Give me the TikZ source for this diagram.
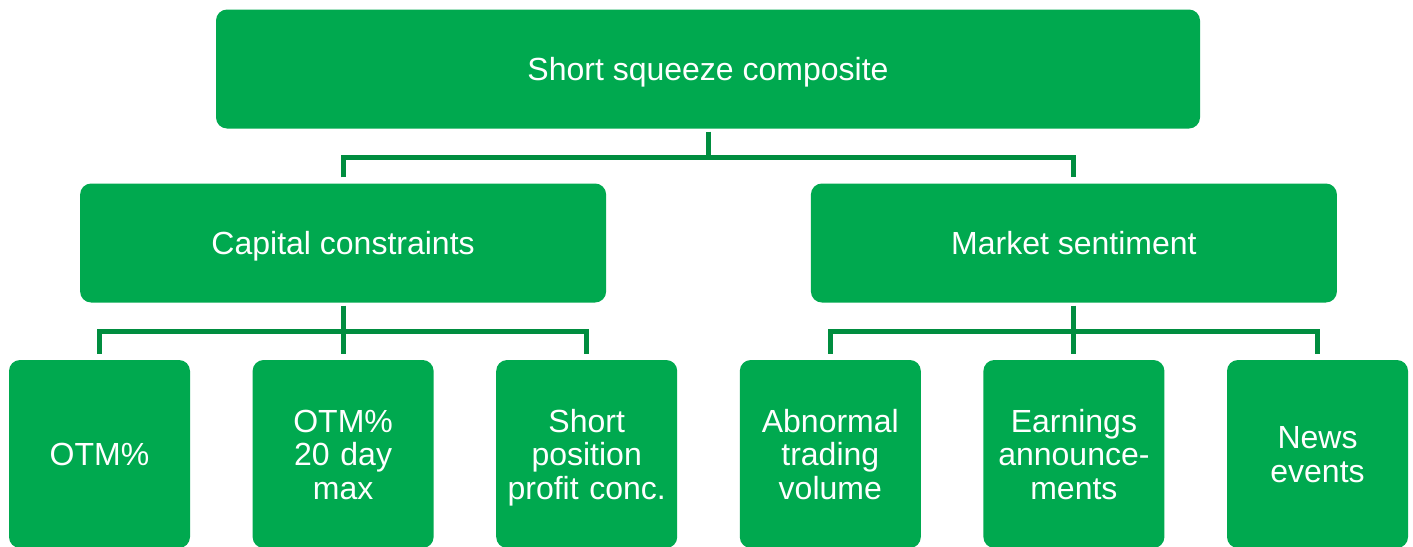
\documentclass[tikz,border=0pt]{standalone}
\usepackage{fontspec}
\setmainfont{Liberation Sans}
\definecolor{boxgreen}{HTML}{00A94F}
\definecolor{linkgreen}{HTML}{008D3F}
\begin{document}
\begin{tikzpicture}[x=1pt,y=1pt,node distance=243.6pt,
            box/.style={fill=boxgreen,rounded corners=11pt,text=white,align=center,
              inner sep=0pt,font=\fontsize{32}{33.5}\selectfont,
              execute at begin node=\rule{0pt}{31pt},
              execute at end node=\rule[-8pt]{0pt}{8pt}},
            root node/.style={box,minimum width=984pt,minimum height=119pt},
            group node/.style={box,minimum width=526pt,minimum height=119pt},
            leaf node/.style={box,text width=181pt,minimum height=188pt},
            link/.style={draw=linkgreen,line width=5pt},
            stem/.style={link,shorten <=3pt},
            branch/.style={link,shorten <=6pt,shorten >=6pt}]

        \clip (0,0) rectangle (1413,-546);

        % Define boxes
        \node[root node] (root) at (708,-69) {Short squeeze composite};
        \node[leaf node] (otm) at (99.5,-454) {OTM\%};
        \node[leaf node] (otmmax) [right of=otm] {OTM\%\\20 day\\max};
        \node[leaf node] (profit) [right of=otmmax] {Short\\position\\profit conc.};
        \node[leaf node] (volume) [right of=profit] {Abnormal\\trading\\volume};
        \node[leaf node] (earnings) [right of=volume] {Earnings\\announce-\\ments};
        \node[leaf node] (news) [right of=earnings] {News\\events};
        \node[group node] (capital) [above of=otmmax, node distance=211pt] {Capital constraints};
        \node[group node] (market) [above of=earnings, node distance=211pt] {Market sentiment};

        \coordinate (top bus) at (708,-157);
        \coordinate (capital bus) at (343,-331);
        \coordinate (market bus) at (1073,-331);

        % Draw connectors
        \draw[stem] (root) -- (top bus);
        \draw[branch] (capital.north) |- (top bus) -| (market.north);
        \draw[stem,shorten >=6pt] (capital) -- (otmmax);
        \draw[branch] (otm.north) |- (capital bus) -| (profit.north);
        \draw[stem,shorten >=6pt] (market) -- (earnings);
        \draw[branch] (volume.north) |- (market bus) -| (news.north);

\end{tikzpicture}
\end{document}
